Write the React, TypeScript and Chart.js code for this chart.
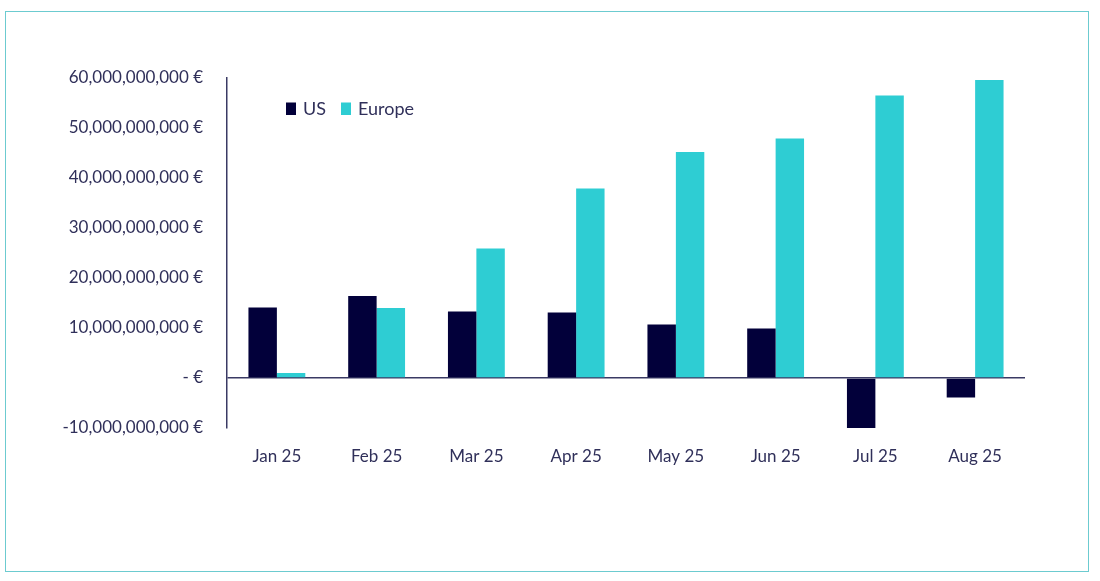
import React, { useEffect, useRef } from "react";
import { Chart, registerables } from "chart.js";

Chart.register(...registerables);

const categories = ["Jan 25", "Feb 25", "Mar 25", "Apr 25", "May 25", "Jun 25", "Jul 25", "Aug 25"];
const usValues = [14.1e9, 16.4e9, 13.3e9, 13.1e9, 10.7e9, 9.9e9, -10.1e9, -3.9e9];
const europeValues = [1.0e9, 14.0e9, 25.9e9, 37.9e9, 45.2e9, 47.9e9, 56.5e9, 59.6e9];
const seriesNames = ["US", "Europe"];
const yMin = -10e9;
const yMax = 60e9;
const yStep = 10e9;

const NAVY = "#02003a";
const TEAL = "#2ecdd3";
const TEXT = "#30305a";
const AXIS = "#3a3a64";
const FONT = "Lato";

function formatEuro(v: number): string {
  if (v === 0) return "- €";
  const s = Math.abs(Math.round(v)).toLocaleString("en-US");
  return (v < 0 ? "-" : "") + s + " €";
}

const legendPlugin = {
  id: "floatLegend",
  afterDraw(chart: any) {
    const ctx = chart.ctx;
    ctx.save();
    ctx.font = `18px ${FONT}`;
    ctx.textBaseline = "alphabetic";
    let x = chart.chartArea.left + 59;
    chart.data.datasets.forEach((ds: any) => {
      ctx.fillStyle = ds.backgroundColor;
      ctx.fillRect(x, 102.5, 10, 12.5);
      ctx.fillStyle = TEXT;
      ctx.fillText(ds.label, x + 17, 115);
      x += 17 + ctx.measureText(ds.label).width + 15;
    });
    ctx.restore();
  },
};

export default function App() {
  const ref = useRef<HTMLCanvasElement>(null);

  useEffect(() => {
    if (!ref.current) return;
    const chart = new Chart(ref.current, {
      type: "bar",
      data: {
        labels: categories,
        datasets: [
          { label: seriesNames[0], data: usValues, backgroundColor: NAVY },
          { label: seriesNames[1], data: europeValues, backgroundColor: TEAL },
        ],
      },
      options: {
        animation: false,
        responsive: false,
        devicePixelRatio: 1,
        layout: { padding: { top: 78, right: 75, left: 0, bottom: 0 } },
        datasets: { bar: { categoryPercentage: 0.57, barPercentage: 1.0 } },
        plugins: {
          legend: { display: false },
          tooltip: { enabled: false },
        },
        scales: {
          x: {
            grid: { display: false, drawTicks: false },
            border: { display: false },
            ticks: {
              color: TEXT,
              font: { family: FONT, size: 17 },
              padding: 18,
              maxRotation: 0,
            },
            afterFit(scale: any) {
              scale.height = 581 - 428;
            },
          },
          y: {
            min: yMin,
            max: yMax,
            grid: {
              drawTicks: false,
              color: (c: any) => (c.tick && c.tick.value === 0 ? AXIS : "rgba(0,0,0,0)"),
              lineWidth: 1.5,
            },
            border: { display: true, color: AXIS, width: 1.5 },
            ticks: {
              stepSize: yStep,
              color: TEXT,
              font: { family: FONT, size: 17 },
              padding: 24,
              callback: (v: any) => formatEuro(Number(v)),
            },
            afterFit(scale: any) {
              scale.width = 227;
            },
          },
        },
      },
      plugins: [legendPlugin],
    });
    return () => chart.destroy();
  }, []);

  return (
    <div style={{ position: "absolute", left: 0, top: 0, width: 1100, height: 581, background: "#fff" }}>
      <div
        style={{
          position: "absolute",
          left: 5,
          top: 11,
          width: 1082,
          height: 559,
          border: "1px solid #6ccbd0",
        }}
      />
      <canvas
        ref={ref}
        width={1100}
        height={581}
        style={{ position: "absolute", left: 0, top: 0, width: 1100, height: 581 }}
      />
    </div>
  );
}
